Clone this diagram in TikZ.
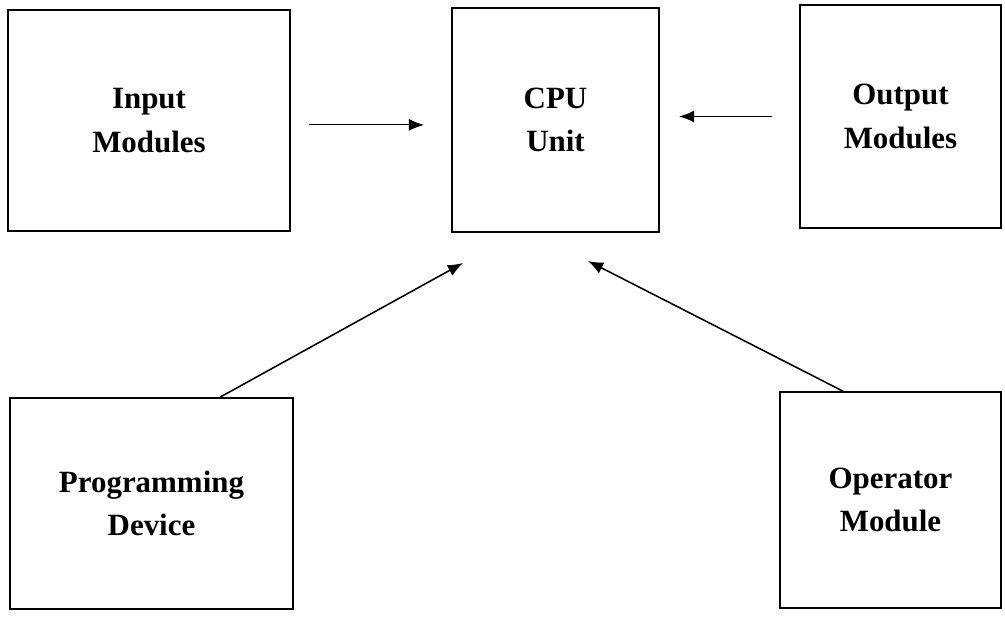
\documentclass[tikz,border=0pt]{standalone}
\usepackage{fontspec}
\setmainfont{Liberation Serif}
\usetikzlibrary{positioning,arrows.meta}

\begin{document}
\begin{tikzpicture}[
  x=0.025cm, y=-0.025cm,
  block/.style={draw, line width=1.2pt, align=center, inner sep=0pt,
    font=\fontsize{22}{31}\selectfont\bfseries},
  arrow/.style={-{Latex[length=3.8mm,width=3mm]}, line width=1.1pt},
]
  \useasboundingbox (0,0) rectangle (1005,620);

  \node[block, minimum width=7.05cm, minimum height=5.52cm] (inp) at (149,120.5) {Input\\Modules};
  \node[block, minimum width=5.17cm, minimum height=5.6cm] (cpu) at (555.5,120) {CPU\\Unit};
  \node[block, minimum width=5.02cm, minimum height=5.57cm] (outp) at (900.5,116.5) {Output\\Modules};
  \node[block, minimum width=7.07cm, minimum height=5.27cm] (prog) at (151.5,503.5) {Programming\\Device};
  \node[block, minimum width=5.52cm, minimum height=5.4cm] (oper) at (890.5,500) {Operator\\Module};

  % free ends below the CPU box
  \coordinate (tipL) at (463,263);
  \coordinate (tipR) at (588,261);

  \draw[arrow, line width=0.8pt, shorten <=0.45cm, shorten >=0.68cm]
    ([yshift=-0.11cm]inp.east) -- ([yshift=-0.11cm]inp.east -| cpu.west);
  \draw[arrow, shorten <=0.68cm, shorten >=0.48cm] (outp.west) -- (outp.west -| cpu.east);
  \draw[arrow] ([xshift=1.71cm]prog.north) -- (tipL);
  \draw[arrow] ([xshift=-1.19cm]oper.north) -- (tipR);
\end{tikzpicture}
\end{document}
